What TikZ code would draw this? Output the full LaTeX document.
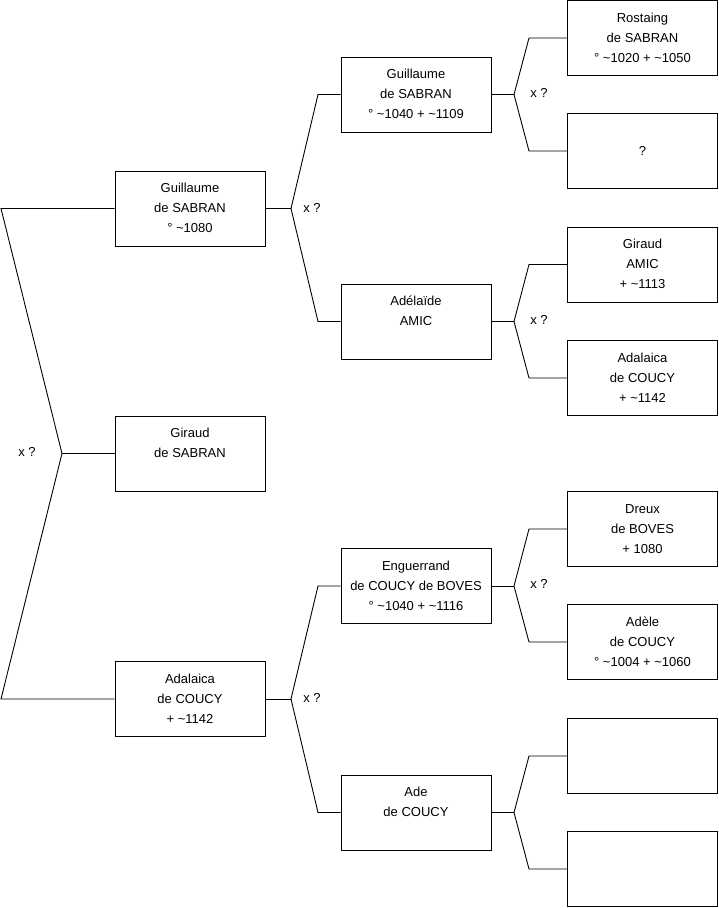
\documentclass[tikz,border=0pt]{standalone}
\usepackage{fontspec}
\setmainfont{Liberation Sans}
\begin{document}
\begin{tikzpicture}[x=1pt,y=-1pt,
  person/.style={draw=black,line width=0.9pt,minimum width=150pt,minimum height=75pt,inner sep=0pt,align=center,
    font=\fontsize{13}{20}\selectfont},
  lbl/.style={inner sep=0pt,font=\fontsize{13}{20}\selectfont},
  link/.style={draw=black,line width=0.9pt}]
\useasboundingbox (0,0) rectangle (719,908);
\newcommand{\tl}{\textasciitilde}
% level 1
\node[person] (a1) at (190,208.5) {\strut Guillaume\\\strut de SABRAN\\\strut ° \tl1080};
\node[person] (a2) at (190,453.5) {\strut Giraud\\\strut de SABRAN\\\strut};
\node[person] (a3) at (190,699) {\strut Adalaica\\\strut de COUCY\\\strut + \tl1142};
% level 2
\node[person] (b1) at (416,94.5) {\strut Guillaume\\\strut de SABRAN\\\strut ° \tl1040 + \tl1109};
\node[person] (b2) at (416,321.5) {\strut Adélaïde\\\strut AMIC\\\strut};
\node[person] (b3) at (416,586) {\strut Enguerrand\\\strut de COUCY de BOVES\\\strut ° \tl1040 + \tl1116};
\node[person] (b4) at (416,812.5) {\strut Ade\\\strut de COUCY\\\strut};
% level 3
\node[person] (c1) at (642.5,38) {\strut Rostaing\\\strut de SABRAN\\\strut ° \tl1020 + \tl1050};
\node[person] (c2) at (642.5,151) {\strut ?};
\node[person] (c3) at (642.5,264.5) {\strut Giraud\\\strut AMIC\\\strut + \tl1113};
\node[person] (c4) at (642.5,378) {\strut Adalaica\\\strut de COUCY\\\strut + \tl1142};
\node[person] (c5) at (642.5,529) {\strut Dreux\\\strut de BOVES\\\strut + 1080};
\node[person] (c6) at (642.5,642) {\strut Adèle\\\strut de COUCY\\\strut ° \tl1004 + \tl1060};
\node[person] (c7) at (642.5,756) {};
\node[person] (c8) at (642.5,869) {};
% fork points
\coordinate (fa) at (62,453.5);
\coordinate (fat) at (1,208.5);
\coordinate (fab) at (1,699);
\coordinate (fb1) at (291,208.5);
\coordinate (fb1t) at (318,94.5);
\coordinate (fb1b) at (318,321.5);
\coordinate (fb2) at (291,699);
\coordinate (fb2t) at (318,586);
\coordinate (fb2b) at (318,812.5);
\coordinate (fc1) at (514,94.5);
\coordinate (fc1t) at (529,38);
\coordinate (fc1b) at (529,151);
\coordinate (fc2) at (514,321.5);
\coordinate (fc2t) at (529,264.5);
\coordinate (fc2b) at (529,378);
\coordinate (fc3) at (514,586);
\coordinate (fc3t) at (529,529);
\coordinate (fc3b) at (529,642);
\coordinate (fc4) at (514,812.5);
\coordinate (fc4t) at (529,756);
\coordinate (fc4b) at (529,869);
% connectors
\draw[link] (a1.west) -- (fat) -- (fa) -- (fab) -- (a3.west);
\draw[link] (fa) -- (a2.west);
\draw[link] (a1.east) -- (fb1);
\draw[link] (b1.west) -- (fb1t) -- (fb1) -- (fb1b) -- (b2.west);
\draw[link] (a3.east) -- (fb2);
\draw[link] (b3.west) -- (fb2t) -- (fb2) -- (fb2b) -- (b4.west);
\draw[link] (b1.east) -- (fc1);
\draw[link] (c1.west) -- (fc1t) -- (fc1) -- (fc1b) -- (c2.west);
\draw[link] (b2.east) -- (fc2);
\draw[link] (c3.west) -- (fc2t) -- (fc2) -- (fc2b) -- (c4.west);
\draw[link] (b3.east) -- (fc3);
\draw[link] (c5.west) -- (fc3t) -- (fc3) -- (fc3b) -- (c6.west);
\draw[link] (b4.east) -- (fc4);
\draw[link] (c7.west) -- (fc4t) -- (fc4) -- (fc4b) -- (c8.west);
% labels
\node[lbl] (xa) at (27,452) {x ?};
\node[lbl] (xb1) at (312,208) {x ?};
\node[lbl] (xb2) at (312,698) {x ?};
\node[lbl] (xc1) at (539,93) {x ?};
\node[lbl] (xc2) at (539,320) {x ?};
\node[lbl] (xc3) at (539,584) {x ?};
\end{tikzpicture}
\end{document}
